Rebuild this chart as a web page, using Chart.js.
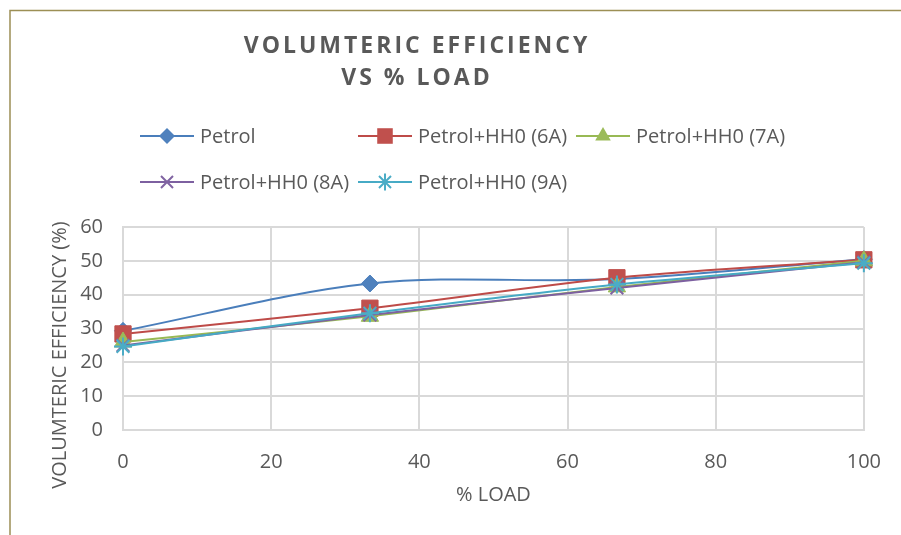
<!DOCTYPE html>
<html>
<head>
<meta charset="utf-8">
<script src="https://cdn.jsdelivr.net/npm/chart.js@4/dist/chart.umd.min.js"></script>
<style>
html,body{margin:0;padding:0;background:#fff;}
#wrap{width:901px;height:535px;position:relative;}
</style>
</head>
<body>
<div id="wrap"><canvas id="c" width="901" height="535"></canvas></div>
<script>
// ---- data ----
const loads = [0, 33.33, 66.67, 100];
const petrol = [29.3, 43.3, 44.6, 50.5];
const hho6A = [28.4, 36.0, 45.0, 50.3];
const hho7A = [26.0, 33.6, 42.3, 50.0];
const hho8A = [25.0, 34.0, 42.0, 49.6];
const hho9A = [24.7, 34.5, 43.0, 49.3];
const seriesNames = ['Petrol', 'Petrol+HH0 (6A)', 'Petrol+HH0 (7A)', 'Petrol+HH0 (8A)', 'Petrol+HH0 (9A)'];
const xTicks = [0, 20, 40, 60, 80, 100];
const yTicks = [0, 10, 20, 30, 40, 50, 60];
const titleLines = ['VOLUMTERIC EFFICIENCY', 'VS % LOAD'];
const xTitle = '% LOAD';
const yTitle = 'VOLUMTERIC EFFICIENCY (%)';

// ---- styles ----
const FONT = '"Open Sans", "Noto Sans", sans-serif';
const TEXT = '#595959';
const GRID = '#d9d9d9';
const styles = [
  {line: '#4A7EBB', fill: '#4F81BD', pointStyle: 'rectRot', radius: 8.5, legendR: 8},
  {line: '#BE4B48', fill: '#C0504D', pointStyle: 'rect', radius: 11.5, legendR: 11},
  {line: '#98B954', fill: '#9BBB59', pointStyle: 'triangle', radius: 10, legendR: 9},
  {line: '#7D60A0', fill: '#8064A2', pointStyle: 'crossRot', radius: 9, legendR: 8.5},
  {line: '#46AAC5', fill: '#4BACC6', pointStyle: 'star', radius: 9, legendR: 8.5}
];
const seriesValues = [petrol, hho6A, hho7A, hho8A, hho9A];

const datasets = seriesValues.map((vals, i) => ({
  label: seriesNames[i],
  data: loads.map((x, j) => ({x: x, y: vals[j]})),
  borderColor: styles[i].line,
  backgroundColor: styles[i].fill,
  borderWidth: 2,
  pointStyle: styles[i].pointStyle,
  pointRadius: styles[i].radius,
  pointHoverRadius: styles[i].radius,
  pointBackgroundColor: styles[i].fill,
  pointBorderColor: styles[i].fill,
  pointBorderWidth: (styles[i].pointStyle === 'crossRot' || styles[i].pointStyle === 'star') ? 2 : 1,
  tension: 0.33,
  clip: false,
  order: 5 - i
}));

function drawMarker(ctx, st, x, y, r) {
  ctx.save();
  ctx.fillStyle = st.fill;
  ctx.strokeStyle = st.fill;
  ctx.lineWidth = 2;
  ctx.beginPath();
  const s = st.pointStyle;
  if (s === 'rectRot') {
    ctx.moveTo(x - r, y); ctx.lineTo(x, y - r); ctx.lineTo(x + r, y); ctx.lineTo(x, y + r); ctx.closePath(); ctx.fill();
  } else if (s === 'rect') {
    const h = r * Math.SQRT1_2; ctx.rect(x - h, y - h, 2 * h, 2 * h); ctx.fill();
  } else if (s === 'triangle') {
    for (let k = 0; k < 3; k++) {
      const a = k * 2 * Math.PI / 3;
      const px = x + Math.sin(a) * r, py = y - Math.cos(a) * r;
      if (k === 0) ctx.moveTo(px, py); else ctx.lineTo(px, py);
    }
    ctx.closePath(); ctx.fill();
  } else if (s === 'crossRot') {
    const d = r * Math.SQRT1_2;
    ctx.moveTo(x - d, y - d); ctx.lineTo(x + d, y + d);
    ctx.moveTo(x - d, y + d); ctx.lineTo(x + d, y - d); ctx.stroke();
  } else if (s === 'star') {
    const d = r * Math.SQRT1_2;
    ctx.moveTo(x - d, y - d); ctx.lineTo(x + d, y + d);
    ctx.moveTo(x - d, y + d); ctx.lineTo(x + d, y - d);
    ctx.moveTo(x, y - r); ctx.lineTo(x, y + r);
    ctx.moveTo(x - r, y); ctx.lineTo(x + r, y); ctx.stroke();
  }
  ctx.restore();
}

const decorPlugin = {
  id: 'decor',
  beforeDraw(chart) {
    const ctx = chart.ctx;
    ctx.save();
    ctx.strokeStyle = '#9C8F55';
    ctx.lineWidth = 1.5;
    ctx.beginPath();
    ctx.moveTo(10, 535); ctx.lineTo(10, 10.5); ctx.lineTo(901, 10.5);
    ctx.stroke();
    ctx.restore();
  },
  afterDraw(chart) {
    const ctx = chart.ctx;
    ctx.save();
    // title
    ctx.fillStyle = TEXT;
    ctx.font = 'bold 23px ' + FONT;
    ctx.textAlign = 'center';
    ctx.textBaseline = 'alphabetic';
    try { ctx.letterSpacing = '3px'; } catch (e) {}
    ctx.fillText(titleLines[0], 417, 53);
    ctx.fillText(titleLines[1], 417, 85);
    try { ctx.letterSpacing = '0px'; } catch (e) {}
    // y-axis title
    ctx.save();
    ctx.translate(60, 355);
    ctx.rotate(-Math.PI / 2);
    ctx.font = '20px ' + FONT;
    ctx.textAlign = 'center';
    ctx.textBaseline = 'middle';
    ctx.fillText(yTitle, 0, 0);
    ctx.restore();
    // legend
    const cols = [140, 358, 576];
    const rows = [136, 182];
    const pos = [[0, 0], [1, 0], [2, 0], [0, 1], [1, 1]];
    ctx.font = '20px ' + FONT;
    ctx.textAlign = 'left';
    ctx.textBaseline = 'middle';
    seriesNames.forEach((name, i) => {
      const x = cols[pos[i][0]], y = rows[pos[i][1]];
      const st = styles[i];
      ctx.strokeStyle = st.line;
      ctx.lineWidth = 2;
      ctx.beginPath(); ctx.moveTo(x, y); ctx.lineTo(x + 54, y); ctx.stroke();
      drawMarker(ctx, st, x + 27, y, st.legendR);
      ctx.fillStyle = TEXT;
      ctx.fillText(name, x + 60, y + 1);
    });
    ctx.restore();
  }
};

new Chart(document.getElementById('c'), {
  type: 'line',
  data: {datasets: datasets},
  options: {
    responsive: false,
    animation: false,
    events: [],
    layout: {padding: {top: 227, right: 32, bottom: 0, left: 0}},
    plugins: {legend: {display: false}, title: {display: false}, tooltip: {enabled: false}},
    scales: {
      x: {
        type: 'linear',
        min: xTicks[0],
        max: xTicks[xTicks.length - 1],
        afterBuildTicks: (s) => { s.ticks = xTicks.map(v => ({value: v})); },
        afterFit: (s) => { s.height = 105; },
        ticks: {color: TEXT, font: {family: FONT, size: 20}, padding: 20, maxRotation: 0},
        grid: {color: GRID, lineWidth: 2, drawTicks: false},
        border: {color: GRID, width: 2},
        title: {display: true, text: xTitle, color: TEXT, font: {family: FONT, size: 20}, padding: {top: 0, bottom: 28}}
      },
      y: {
        type: 'linear',
        min: yTicks[0],
        max: yTicks[yTicks.length - 1],
        afterBuildTicks: (s) => { s.ticks = yTicks.map(v => ({value: v})); },
        afterFit: (s) => { s.width = 123; },
        ticks: {color: TEXT, font: {family: FONT, size: 20}, padding: 20},
        grid: {color: GRID, lineWidth: 2, drawTicks: false},
        border: {color: GRID, width: 2}
      }
    }
  },
  plugins: [decorPlugin]
});
</script>
</body>
</html>
